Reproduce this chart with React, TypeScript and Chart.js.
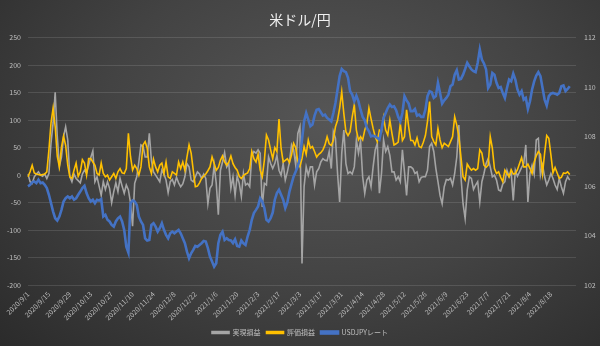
import { useEffect, useRef } from 'react';
import { Chart, registerables } from 'chart.js';
Chart.register(...registerables);

const tickLabels = [
  '2020/9/1', '2020/9/15', '2020/9/29', '2020/10/13', '2020/10/27', '2020/11/10', '2020/11/24',
  '2020/12/8', '2020/12/22', '2021/1/6', '2021/1/20', '2021/2/3', '2021/2/17', '2021/3/3',
  '2021/3/17', '2021/3/31', '2021/4/14', '2021/4/28', '2021/5/12', '2021/5/26', '2021/6/9',
  '2021/6/23', '2021/7/7', '2021/7/21', '2021/8/4', '2021/8/18',
];

const realized = [
  2, -12, -15, -3, 2, 6, 0, -2, 2, -6,
  3, 58, 95, 151, 70, 16, 33, 70, 88, 64,
  -3, -12, 2, -6, -10, -14, 2, 9, 4, 18,
  32, 44, -12, -3, -20, -37, -12, -26, -12, -24,
  -50, -30, -14, -30, -6, -20, -33, -18, -27, -50,
  -93, -15, -3, 24, 55, 52, 33, 33, 76, 27,
  6, 0, -6, -12, 9, 2, -9, -32, -12, -8,
  -18, -4, -14, -21, -16, -3, 21, 15, -9, -12,
  -3, 6, 2, -6, 2, -6, -52, -24, -18, 18,
  -15, -72, 9, 24, 41, 15, 21, -24, -3, -37,
  -2, -15, -39, 3, -18, -15, -21, 36, 43, 40,
  46, 40, -58, -15, -18, 33, 21, 12, 21, 36,
  9, 0, 21, -9, 6, 24, 55, 46, 18, 76,
  88, -161, -21, 15, 0, 15, 15, -18, 6, 12,
  24, 30, 27, 26, 43, 12, 79, 67, 3, -49,
  40, 82, 21, 3, 6, 2, 15, 64, 40, 62,
  -3, -33, -9, -3, -21, 15, 46, 58, -33, 3,
  64, 43, 52, 36, 6, 6, -9, -3, -12, 46,
  6, -37, 15, 15, 12, 3, 6, -12, -4, -3,
  -3, 9, 52, 58, 43, 12, -12, -37, -52, -21,
  -8, -9, -6, -18, 3, 33, 91, -3, -52, -79,
  -27, -3, -6, -26, -18, -12, -49, -12, 3, 21,
  30, 15, -3, 0, -9, -27, -29, -16, -12, 9,
  -3, 6, -46, 9, -2, 6, 14, 21, 55, -49,
  3, 18, 2, 64, 67, 0, 18, -3, -18, -9,
  3, -6, -18, -26, -6, -21, -33, -12, -3, -9,
];

const unrealized = [
  -3, 6, 18, 4, 2, 1, 0, 1, 2, 6,
  46, 95, 122, 88, 34, 15, 51, 71, 54, 18,
  -3, -6, 9, 22, -2, 6, 28, 22, 0, 30,
  30, 24, 18, 3, 0, 22, 3, -3, 0, -9,
  -3, 3, -6, 6, 12, 4, 3, 12, 76, 34,
  9, 18, 12, 0, 15, 55, 61, 49, 15, 3,
  29, 15, 6, 18, 22, 3, 24, -3, -6, 6,
  3, 0, 24, 12, 24, 9, 33, 55, 40, 9,
  -21, -20, -14, -6, -2, 2, 8, 15, 33, 21,
  9, 14, 27, 35, 24, 18, 24, 35, 21, 14,
  9, -2, -6, -1, 2, 4, 12, 43, 30, 24,
  38, 9, -3, 27, 73, 64, 46, 30, 50, 43,
  102, 49, 24, 27, 30, 23, 37, 58, 50, 24,
  16, 30, 52, 38, 64, 49, 52, 43, 33, 38,
  41, 46, 55, 70, 57, 54, 64, 88, 100, 122,
  152, 112, 79, 72, 79, 106, 128, 82, 64, 70,
  64, 82, 94, 122, 103, 85, 70, 61, 82, 79,
  105, 82, 73, 100, 76, 55, 57, 60, 94, 63,
  70, 119, 88, 63, 63, 55, 68, 52, 50, 60,
  72, 98, 134, 70, 61, 55, 85, 64, 50, 58,
  55, 52, 61, 70, 106, 91, 70, 33, -3, -9,
  20, 14, 9, 12, 9, 12, 46, 40, 18, 14,
  18, 70, 49, 12, 3, 6, -4, -12, 9, 3,
  -3, 10, 2, 3, 10, 21, 32, 15, 15, 20,
  12, 3, 24, 35, 43, 38, 3, 40, 72, 67,
  37, 4, 14, 4, -6, -4, 4, 3, 6, 1,
];

const usdjpy = [
  105.99, 106.05, 106.15, 106.19, 106.12, 106.26, 106.12, 106.15, 106.05, 105.92,
  105.65, 105.31, 104.97, 104.70, 104.61, 104.77, 105.04, 105.38, 105.51, 105.58,
  105.51, 105.58, 105.45, 105.51, 105.65, 105.78, 105.92, 106.01, 105.72, 105.51,
  105.38, 105.45, 105.31, 105.45, 105.42, 105.47, 104.77, 104.84, 104.64, 104.57,
  104.43, 104.36, 104.57, 104.70, 104.77, 104.57, 104.23, 103.55, 103.31, 105.31,
  105.42, 105.38, 105.24, 104.77, 104.57, 104.43, 103.89, 103.80, 103.82, 104.43,
  104.50, 104.36, 104.16, 104.30, 104.50, 104.23, 104.03, 103.89, 104.09, 104.16,
  104.09, 104.16, 104.23, 104.09, 103.89, 103.69, 103.35, 103.08, 103.28, 103.42,
  103.58, 103.55, 103.62, 103.69, 103.78, 103.76, 103.49, 103.15, 102.95, 102.74,
  102.88, 103.69, 104.03, 104.16, 103.82, 103.89, 103.82, 103.80, 103.69, 103.85,
  103.58, 103.55, 103.80, 103.69, 103.62, 103.96, 104.23, 104.64, 104.91, 105.04,
  105.18, 105.51, 105.38, 105.11, 104.64, 104.57, 104.70, 104.93, 105.45, 105.72,
  105.85, 105.65, 105.45, 105.11, 105.34, 105.78, 106.09, 106.39, 106.59, 106.80,
  107.14, 107.88, 108.62, 108.96, 108.69, 108.42, 108.49, 108.85, 109.09, 109.12,
  108.99, 108.85, 108.89, 108.76, 108.69, 108.62, 108.96, 109.36, 109.91, 110.45,
  110.74, 110.65, 110.61, 110.38, 109.84, 109.70, 109.43, 109.66, 109.43, 109.09,
  108.80, 108.66, 108.35, 108.22, 108.01, 108.04, 108.01, 107.95, 107.88, 108.28,
  108.76, 108.96, 109.16, 109.30, 109.20, 109.23, 109.07, 108.80, 108.62, 108.96,
  109.64, 109.47, 109.34, 109.03, 109.03, 109.12, 108.85, 108.89, 108.80, 108.80,
  109.09, 109.64, 109.84, 109.80, 109.57, 109.64, 110.18, 109.77, 109.34, 109.47,
  109.57, 109.70, 110.04, 110.11, 110.51, 110.69, 110.31, 110.34, 110.51, 110.74,
  110.99, 110.85, 110.72, 110.65, 110.61, 110.99, 111.53, 111.12, 110.96, 110.72,
  109.97, 110.11, 110.58, 110.51, 110.18, 109.97, 110.01, 109.77, 109.57, 109.97,
  110.31, 110.24, 110.55, 110.31, 109.91, 109.70, 109.84, 109.50, 109.57, 109.12,
  109.43, 109.91, 110.24, 110.47, 110.61, 110.45, 109.97, 109.50, 109.26, 109.64,
  109.74, 109.77, 109.74, 109.70, 109.77, 110.04, 110.07, 109.84, 109.93, 110.04,
];

const TRAILING_EMPTY = 3;
const FONT = '"Noto Sans CJK JP", "Noto Sans", sans-serif';

export default function App() {
  const ref = useRef<HTMLCanvasElement>(null);
  useEffect(() => {
    const n = usdjpy.length + TRAILING_EMPTY;
    const labels = Array.from({ length: n }, (_, i) =>
      i % 10 === 0 && tickLabels[i / 10] ? tickLabels[i / 10] : ''
    );
    const chart = new Chart(ref.current!, {
      type: 'line',
      data: {
        labels,
        datasets: [
          { label: '実現損益', data: realized, borderColor: '#a5a5a5', backgroundColor: '#a5a5a5', borderWidth: 1.6, yAxisID: 'y', order: 3 },
          { label: '評価損益', data: unrealized, borderColor: '#ffc000', backgroundColor: '#ffc000', borderWidth: 1.6, yAxisID: 'y', order: 2 },
          { label: 'USDJPYレート', data: usdjpy, borderColor: '#4472c4', backgroundColor: '#4472c4', borderWidth: 2.6, yAxisID: 'y1', order: 1 },
        ],
      },
      options: {
        animation: false,
        responsive: true,
        maintainAspectRatio: false,
        elements: { point: { radius: 0 }, line: { tension: 0 } },
        layout: { padding: 0 },
        plugins: {
          title: {
            display: true,
            text: '米ドル/円',
            color: '#f0f0f0',
            font: { family: FONT, size: 14, weight: 'normal' },
            padding: { top: 11, bottom: 10 },
          },
          legend: {
            position: 'bottom',
            labels: {
              boxWidth: 17,
              boxHeight: 2,
              padding: 6,
              color: '#bfbfbf',
              font: { family: FONT, size: 7 },
              sort: (a: any, b: any) => a.datasetIndex - b.datasetIndex,
            },
          },
          tooltip: { enabled: false },
        },
        scales: {
          x: {
            type: 'category',
            grid: { display: false, drawTicks: false },
            border: { display: false },
            ticks: {
              autoSkip: false,
              minRotation: 45,
              maxRotation: 45,
              padding: 5,
              color: '#bfbfbf',
              font: { family: FONT, size: 7 },
            },
            afterFit: (s: any) => { s.height = 38; },
          },
          y: {
            position: 'left',
            min: -200,
            max: 250,
            grid: { color: 'rgba(230,230,230,0.14)', drawTicks: false },
            border: { display: false },
            ticks: { stepSize: 50, padding: 7, color: '#bfbfbf', font: { family: FONT, size: 7 } },
            afterFit: (s: any) => { s.width = 28; },
          },
          y1: {
            position: 'right',
            min: 102,
            max: 112,
            grid: { display: false, drawTicks: false },
            border: { display: false },
            ticks: { stepSize: 2, padding: 8, color: '#bfbfbf', font: { family: FONT, size: 7 } },
            afterFit: (s: any) => { s.width = 24; },
          },
        },
      },
    });
    return () => chart.destroy();
  }, []);
  return (
    <div
      style={{
        position: 'absolute',
        left: 0,
        top: 0,
        width: 600,
        height: 346,
        background: 'radial-gradient(ellipse 75% 95% at 55% 35%, #565656 0%, #434343 50%, #2b2b2b 100%)',
      }}
    >
      <canvas ref={ref} />
    </div>
  );
}
